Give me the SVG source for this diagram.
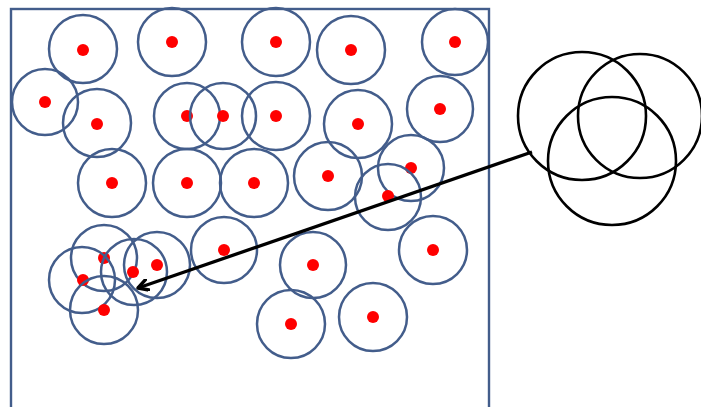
<svg xmlns="http://www.w3.org/2000/svg" width="701" height="407" viewBox="0 0 701 407">
<style>
.c{fill:none;stroke:#435d8b;stroke-width:2.5}
.d{fill:#ff0000}
.v{fill:none;stroke:#000;stroke-width:2.6}
.box{fill:none;stroke:#435d8b;stroke-width:2.4}
</style>
<defs>
<marker id="arr" viewBox="0 0 12 12" refX="10" refY="6" markerWidth="13" markerHeight="13" markerUnits="userSpaceOnUse" orient="auto">
<path d="M1,1 L10,6 L1,11" fill="none" stroke="#000" stroke-width="3.2" stroke-linecap="round" stroke-linejoin="round"/>
</marker>
</defs>
<rect width="701" height="407" fill="#fff"/>
<g id="box"><rect class="box" x="11" y="9" width="478" height="410"/></g>
<g id="n1"><circle class="c" cx="83" cy="49" r="34"/><circle class="d" cx="83" cy="50" r="6"/></g>
<g id="n2"><circle class="c" cx="172" cy="42" r="34"/><circle class="d" cx="172" cy="42" r="6"/></g>
<g id="n3"><circle class="c" cx="276" cy="42" r="34"/><circle class="d" cx="276" cy="42" r="6"/></g>
<g id="n4"><circle class="c" cx="351" cy="50" r="34"/><circle class="d" cx="351" cy="50" r="6"/></g>
<g id="n5"><circle class="c" cx="455" cy="42" r="33"/><circle class="d" cx="455" cy="42" r="6"/></g>
<g id="n6"><circle class="c" cx="45" cy="102" r="33"/><circle class="d" cx="45" cy="102" r="6"/></g>
<g id="n7"><circle class="c" cx="97" cy="123" r="34"/><circle class="d" cx="97" cy="124" r="6"/></g>
<g id="n8"><circle class="c" cx="187" cy="116" r="33"/><circle class="d" cx="187" cy="116" r="6"/></g>
<g id="n9"><circle class="c" cx="223" cy="116" r="33"/><circle class="d" cx="223" cy="116" r="6"/></g>
<g id="n10"><circle class="c" cx="276" cy="116" r="34"/><circle class="d" cx="276" cy="116" r="6"/></g>
<g id="n11"><circle class="c" cx="358" cy="124" r="34"/><circle class="d" cx="358" cy="124" r="6"/></g>
<g id="n12"><circle class="c" cx="440" cy="109" r="33"/><circle class="d" cx="440" cy="109" r="6"/></g>
<g id="n13"><circle class="c" cx="112" cy="183" r="34"/><circle class="d" cx="112" cy="183" r="6"/></g>
<g id="n14"><circle class="c" cx="187" cy="183" r="34"/><circle class="d" cx="187" cy="183" r="6"/></g>
<g id="n15"><circle class="c" cx="254" cy="183" r="34"/><circle class="d" cx="254" cy="183" r="6"/></g>
<g id="n16"><circle class="c" cx="328" cy="176" r="34"/><circle class="d" cx="328" cy="176" r="6"/></g>
<g id="n17"><circle class="c" cx="411" cy="168" r="33"/><circle class="d" cx="411" cy="168" r="6"/></g>
<g id="n18"><circle class="c" cx="388" cy="197" r="33"/><circle class="d" cx="388" cy="196" r="6"/></g>
<g id="n19"><circle class="c" cx="104" cy="258" r="33"/><circle class="d" cx="104" cy="258" r="6"/></g>
<g id="n20"><circle class="c" cx="82" cy="280" r="33"/><circle class="d" cx="83" cy="280" r="6"/></g>
<g id="n21"><circle class="c" cx="134" cy="272" r="33"/><circle class="d" cx="133" cy="272" r="6"/></g>
<g id="n22"><circle class="c" cx="157" cy="265" r="33"/><circle class="d" cx="157" cy="265" r="6"/></g>
<g id="n23"><circle class="c" cx="104" cy="310" r="34"/><circle class="d" cx="104" cy="310" r="6"/></g>
<g id="n24"><circle class="c" cx="224" cy="250" r="33"/><circle class="d" cx="224" cy="250" r="6"/></g>
<g id="n25"><circle class="c" cx="313" cy="265" r="33"/><circle class="d" cx="313" cy="265" r="6"/></g>
<g id="n26"><circle class="c" cx="433" cy="250" r="34"/><circle class="d" cx="433" cy="250" r="6"/></g>
<g id="n27"><circle class="c" cx="291" cy="324" r="34"/><circle class="d" cx="291" cy="324" r="6"/></g>
<g id="n28"><circle class="c" cx="373" cy="317" r="34"/><circle class="d" cx="373" cy="317" r="6"/></g>
<g id="venn">
<circle class="v" cx="582" cy="116" r="64"/>
<circle class="v" cx="640" cy="116" r="62"/>
<circle class="v" cx="612" cy="161" r="64"/>
</g>
<g id="connectors">
<line x1="532" y1="152" x2="138" y2="288" stroke="#000" stroke-width="3.3" marker-end="url(#arr)"/>
</g>
</svg>
